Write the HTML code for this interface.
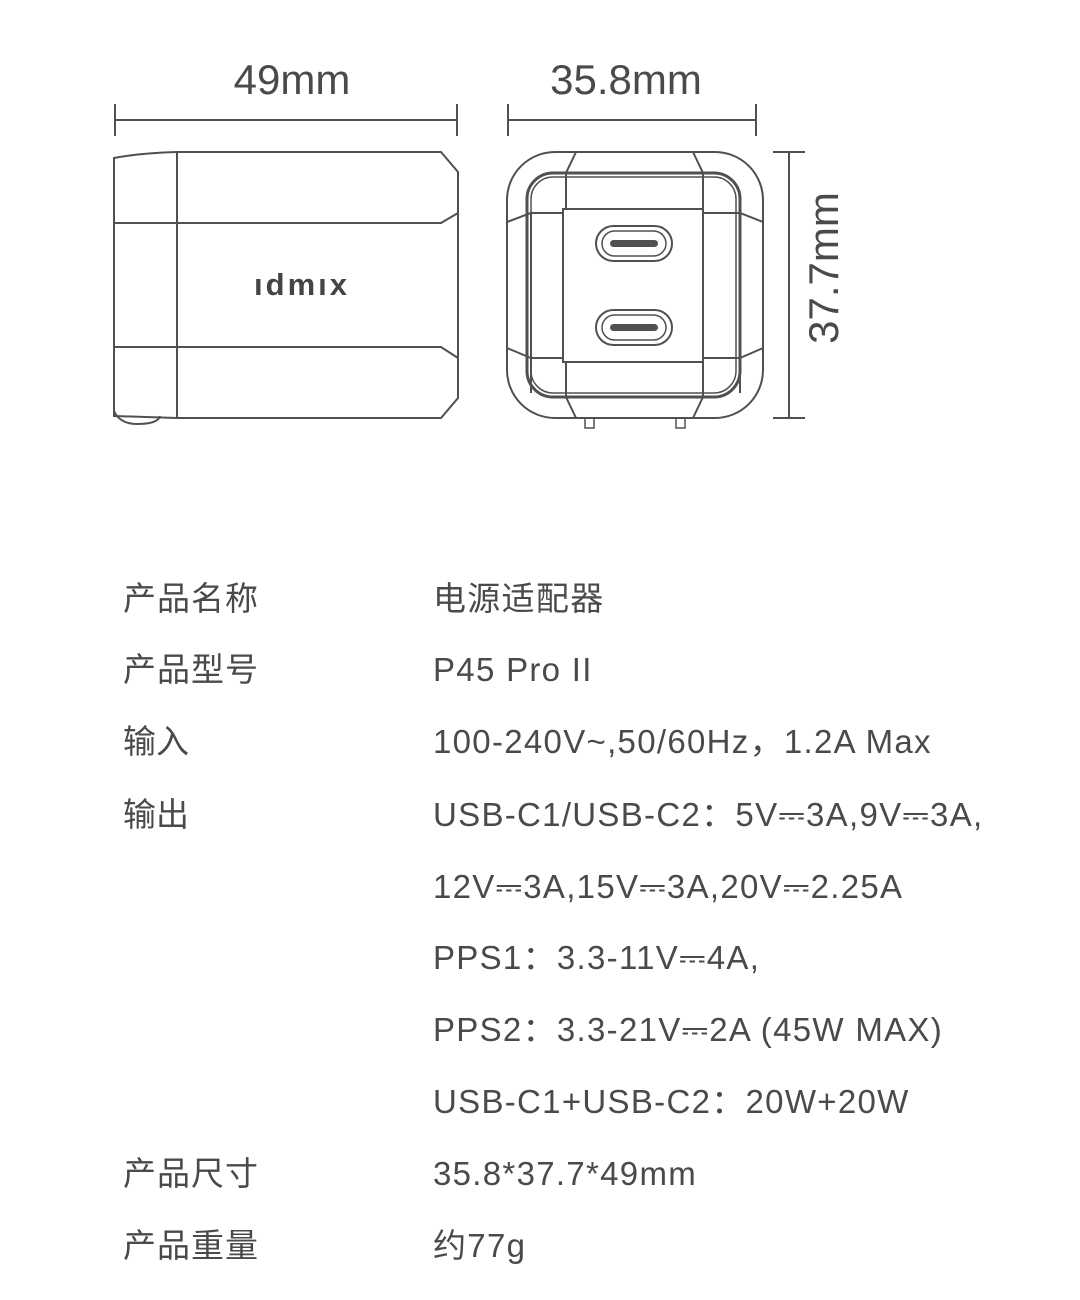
<!DOCTYPE html>
<html><head><meta charset="utf-8"><style>
body{margin:0;background:#fff;width:1080px;height:1300px;overflow:hidden;position:relative;font-family:"Liberation Sans","Noto Sans CJK SC",sans-serif;color:#4a4a4a}
.r{position:absolute;font-size:33px;line-height:40px;white-space:nowrap}
.v{letter-spacing:1.3px}
</style></head><body>
<svg width="1080" height="470" style="position:absolute;left:0;top:0" fill="none" stroke="#505050" stroke-width="2">
<text x="292" y="94" font-size="42" fill="#4a4a4a" stroke="none" text-anchor="middle" font-family="Liberation Sans,sans-serif">49mm</text>
<text x="626" y="94" font-size="42" fill="#4a4a4a" stroke="none" text-anchor="middle" font-family="Liberation Sans,sans-serif">35.8mm</text>
<text transform="translate(838,268) rotate(-90)" font-size="42" fill="#4a4a4a" stroke="none" text-anchor="middle" font-family="Liberation Sans,sans-serif">37.7mm</text>
<path d="M115,120H457M115,104V136M457,104V136"/>
<path d="M508,120H756M508,104V136M756,104V136"/>
<path d="M773,152H805M773,418H805M789,152V418"/>
<path d="M114,158Q140,153 177,152H441L458,172V398L441,418H177L114,416Z"/>
<path d="M177,152V418M114,223H441L458,213M114,347H441L458,358"/>
<path d="M114,411Q120,424 137,424Q158,424 160,416"/>
<text x="302" y="295" font-size="31" font-weight="bold" fill="#444" stroke="none" text-anchor="middle" font-family="Liberation Sans,sans-serif" letter-spacing="3">ıdmıx</text>
<rect x="507" y="152" width="256" height="266" rx="48"/>
<rect x="527" y="173" width="213" height="224" rx="26" stroke-width="3"/>
<rect x="531" y="177" width="205" height="216" rx="22" stroke-width="1.5"/>
<rect x="563" y="209" width="140" height="153"/>
<path d="M576,152L566,173V209M693,152L703,173V209M566,362V397L576,418M703,362V397L693,418"/>
<path d="M507,222L531,213V393M763,222L740,213V393M507,348L531,358M763,348L740,358M531,213H563M703,213H740M531,358H563M703,358H740"/>
<rect x="596" y="226" width="76" height="35" rx="17.5" stroke-width="2"/>
<rect x="602" y="231" width="64" height="25" rx="12.5" stroke-width="1.5"/>
<rect x="611" y="241" width="46" height="5" rx="2.5" fill="#505050"/>
<rect x="596" y="310" width="76" height="35" rx="17.5" stroke-width="2"/>
<rect x="602" y="315" width="64" height="25" rx="12.5" stroke-width="1.5"/>
<rect x="611" y="325" width="46" height="5" rx="2.5" fill="#505050"/>
<path d="M585,418V428H594V418M676,418V428H685V418" stroke-width="1.5"/>
</svg>
<div class="r" style="left:123px;top:579px;letter-spacing:1px">产品名称</div><div class="r v" style="left:433px;top:579px">电源适配器</div>
<div class="r" style="left:123px;top:650px;letter-spacing:1px">产品型号</div><div class="r v" style="left:433px;top:650px">P45 Pro II</div>
<div class="r" style="left:123px;top:722px">输入</div><div class="r v" style="left:433px;top:722px">100-240V~,50/60Hz，1.2A Max</div>
<div class="r" style="left:123px;top:795px">输出</div><div class="r v" style="left:433px;top:795px">USB-C1/USB-C2：5V⎓3A,9V⎓3A,</div>
<div class="r v" style="left:433px;top:867px">12V⎓3A,15V⎓3A,20V⎓2.25A</div>
<div class="r v" style="left:433px;top:938px">PPS1：3.3-11V⎓4A,</div>
<div class="r v" style="left:433px;top:1010px">PPS2：3.3-21V⎓2A (45W MAX)</div>
<div class="r v" style="left:433px;top:1082px">USB-C1+USB-C2：20W+20W</div>
<div class="r" style="left:123px;top:1154px;letter-spacing:1px">产品尺寸</div><div class="r v" style="left:433px;top:1154px">35.8*37.7*49mm</div>
<div class="r" style="left:123px;top:1226px;letter-spacing:1px">产品重量</div><div class="r v" style="left:433px;top:1226px">约77g</div>
</body></html>
